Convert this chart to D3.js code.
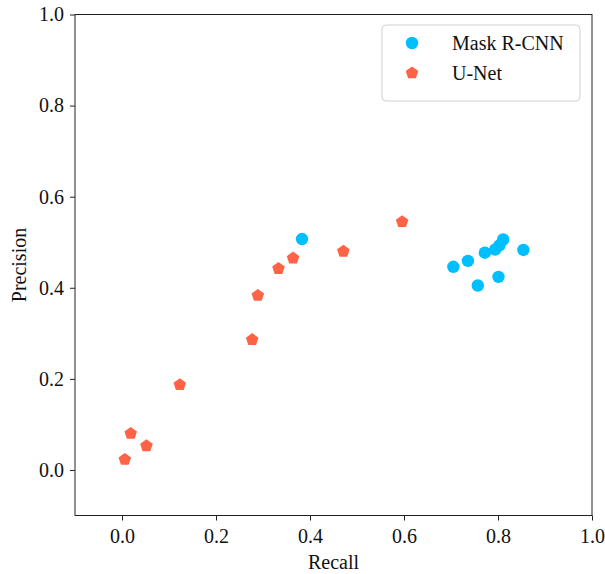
<!DOCTYPE html>
<html>
<head>
<meta charset="utf-8">
<script src="https://cdn.jsdelivr.net/npm/d3@7"></script>
<style>
  body { margin: 0; background: #fff; }
  svg text { font-family: "Liberation Serif", "DejaVu Serif", serif; fill: #111; }
</style>
</head>
<body>
<svg id="chart" width="605" height="574"></svg>
<script>
// data
const maskRecall    = [0.383, 0.705, 0.736, 0.757, 0.772, 0.794, 0.803, 0.811, 0.801, 0.854];
const maskPrecision = [0.507, 0.446, 0.459, 0.405, 0.477, 0.484, 0.493, 0.506, 0.424, 0.483];

const unetRecall    = [0.006, 0.0185, 0.052, 0.123, 0.277, 0.289, 0.333, 0.364, 0.471, 0.596];
const unetPrecision = [0.023, 0.080, 0.053, 0.187, 0.286, 0.383, 0.442, 0.465, 0.480, 0.545];

const xTicks = [0.0, 0.2, 0.4, 0.6, 0.8, 1.0];
const yTicks = [0.0, 0.2, 0.4, 0.6, 0.8, 1.0];

const series = [
  { name: "Mask R-CNN", color: "#00bfff", shape: "circle", x: maskRecall, y: maskPrecision },
  { name: "U-Net", color: "#ff6347", shape: "pentagon", x: unetRecall, y: unetPrecision }
];

const width = 605, height = 574;
const margin = { top: 14.5, right: 13, bottom: 58.5, left: 75 };
const serif = '"Liberation Serif", "DejaVu Serif", serif';

const svg = d3.select("#chart");

const x = d3.scaleLinear().domain([-0.1, 1.0]).range([margin.left, width - margin.right]);
const y = d3.scaleLinear().domain([-0.1, 1.0]).range([height - margin.bottom, margin.top]);

// pentagon pointing up, r = circumradius
function pentagon(r) {
  const pts = d3.range(5).map(i => {
    const a = -Math.PI / 2 + i * 2 * Math.PI / 5;
    return [r * Math.cos(a), r * Math.sin(a)];
  });
  return "M" + pts.map(p => p.join(",")).join("L") + "Z";
}

function drawMarker(g, s) {
  if (s.shape === "circle") {
    return g.append("circle").attr("r", 6.2).attr("fill", s.color);
  }
  return g.append("path").attr("d", pentagon(6.6)).attr("fill", s.color);
}

// points
series.forEach(s => {
  const pts = s.x.map((v, i) => [v, s.y[i]]);
  const g = svg.append("g");
  pts.forEach(p => {
    const m = g.append("g").attr("transform", `translate(${x(p[0])},${y(p[1])})`);
    drawMarker(m, s);
  });
});

// frame
svg.append("rect")
  .attr("x", margin.left).attr("y", margin.top)
  .attr("width", width - margin.left - margin.right)
  .attr("height", height - margin.top - margin.bottom)
  .attr("fill", "none").attr("stroke", "#222").attr("stroke-width", 1);

// axes
const xAxis = svg.append("g")
  .attr("transform", `translate(0,${height - margin.bottom})`)
  .call(d3.axisBottom(x).tickValues(xTicks).tickFormat(d3.format(".1f")).tickSize(5).tickPadding(8));
const yAxis = svg.append("g")
  .attr("transform", `translate(${margin.left},0)`)
  .call(d3.axisLeft(y).tickValues(yTicks).tickFormat(d3.format(".1f")).tickSize(5).tickPadding(6));

[xAxis, yAxis].forEach(a => {
  a.attr("font-family", serif).attr("font-size", 20);
  a.select(".domain").remove();
  a.selectAll(".tick line").attr("stroke", "#222");
  a.selectAll(".tick text")
    .attr("font-family", serif)
    .attr("font-size", 20)
    .attr("fill", "#111");
});

// axis labels
svg.append("text")
  .attr("x", x(0.45)).attr("y", 569)
  .attr("text-anchor", "middle").attr("font-size", 20)
  .attr("font-family", serif)
  .text("Recall");
svg.append("text")
  .attr("transform", `translate(26,${y(0.45)}) rotate(-90)`)
  .attr("text-anchor", "middle").attr("font-size", 20)
  .attr("font-family", serif)
  .text("Precision");

// legend
const legend = svg.append("g");
legend.append("rect")
  .attr("x", 382).attr("y", 25).attr("width", 198).attr("height", 76)
  .attr("rx", 4).attr("fill", "#fff").attr("fill-opacity", 0.8)
  .attr("stroke", "#d0d0d0").attr("stroke-width", 1);
series.forEach((s, i) => {
  const row = legend.append("g").attr("transform", `translate(412,${43 + i * 30})`);
  drawMarker(row, s);
  row.append("text")
    .attr("x", 40).attr("y", 0).attr("dy", "0.35em")
    .attr("font-size", 20)
    .attr("font-family", serif)
    .text(s.name);
});
</script>
</body>
</html>
